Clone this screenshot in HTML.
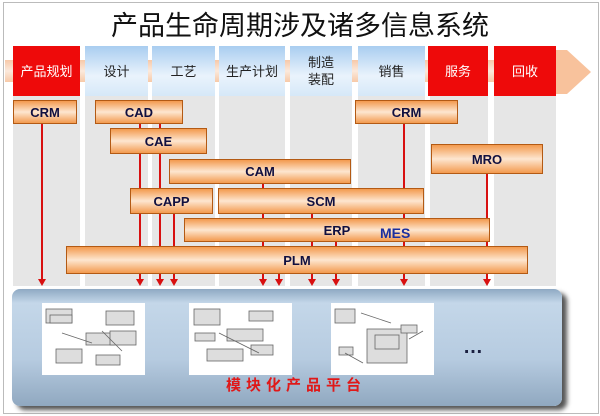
<!DOCTYPE html>
<html><head><meta charset="utf-8"><style>
body{margin:0;width:600px;height:416px;background:#fff;position:relative;overflow:hidden;font-family:"Liberation Sans","Noto Sans CJK SC",sans-serif}
.a{position:absolute}
.title{left:0;width:600px;top:4px;text-align:center;font-size:27px;color:#111}
.h{position:absolute;top:46px;height:50px;display:flex;align-items:center;justify-content:center;font-size:13px;text-align:center;line-height:17px}
.r{background:#ee0a0a;color:#fff}
.b{background:linear-gradient(#a9cdf0,#eaf3fc 60%,#d6e8f8);color:#222}
.col{position:absolute;top:96px;height:190px;background:#e6e6e6}
.bx{position:absolute;border:1px solid #b35a14;background:linear-gradient(#f39a4e,#fde6d0 50%,#f39a4e);display:flex;align-items:center;justify-content:center;font-weight:bold;font-size:13px;color:#101040;box-sizing:border-box}
.ln{position:absolute;width:2px;background:#d81010}
.ah{position:absolute;width:0;height:0;border-left:4px solid transparent;border-right:4px solid transparent;border-top:7px solid #d81010}
.img{position:absolute;top:303px;height:72px;background:#fff;overflow:hidden}
</style></head><body>
<div style="position:absolute;left:3px;top:2px;width:594px;height:410px;border:1px solid #bbb"></div>
<div class="a title">产品生命周期涉及诸多信息系统</div>
<div class="a" style="left:5px;top:60px;width:560px;height:22px;background:linear-gradient(#f7c9a8,#fbe9dc,#f7c9a8)"></div>
<svg class="a" style="left:555px;top:50px" width="40" height="44"><polygon points="0,0 12,0 36,22 12,44 0,44" fill="#f8c29c"/></svg>
<div class="col" style="left:13px;width:67px"></div>
<div class="col" style="left:85px;width:63px"></div>
<div class="col" style="left:152px;width:63px"></div>
<div class="col" style="left:219px;width:66px"></div>
<div class="col" style="left:290px;width:62px"></div>
<div class="col" style="left:358px;width:67px"></div>
<div class="col" style="left:430px;width:58px"></div>
<div class="col" style="left:494px;width:62px"></div>
<div class="h r" style="left:13px;width:67px">产品规划</div>
<div class="h b" style="left:85px;width:63px">设计</div>
<div class="h b" style="left:152px;width:63px">工艺</div>
<div class="h b" style="left:219px;width:66px">生产计划</div>
<div class="h b" style="left:290px;width:62px">制造<br>装配</div>
<div class="h b" style="left:358px;width:67px">销售</div>
<div class="h r" style="left:428px;width:60px">服务</div>
<div class="h r" style="left:494px;width:62px">回收</div>
<div class="ln" style="left:41px;top:123px;height:157px"></div>
<div class="ln" style="left:139px;top:123px;height:157px"></div>
<div class="ln" style="left:159px;top:123px;height:157px"></div>
<div class="ln" style="left:173px;top:213px;height:67px"></div>
<div class="ln" style="left:262px;top:183px;height:97px"></div>
<div class="ln" style="left:278px;top:273px;height:7px"></div>
<div class="ln" style="left:311px;top:213px;height:67px"></div>
<div class="ln" style="left:335px;top:241px;height:39px"></div>
<div class="ln" style="left:403px;top:123px;height:157px"></div>
<div class="ln" style="left:486px;top:174px;height:106px"></div>
<div class="ah" style="left:38px;top:279px"></div>
<div class="ah" style="left:136px;top:279px"></div>
<div class="ah" style="left:156px;top:279px"></div>
<div class="ah" style="left:170px;top:279px"></div>
<div class="ah" style="left:259px;top:279px"></div>
<div class="ah" style="left:275px;top:279px"></div>
<div class="ah" style="left:308px;top:279px"></div>
<div class="ah" style="left:332px;top:279px"></div>
<div class="ah" style="left:400px;top:279px"></div>
<div class="ah" style="left:483px;top:279px"></div>
<div class="bx" style="left:13px;top:100px;width:64px;height:24px">CRM</div>
<div class="bx" style="left:95px;top:100px;width:88px;height:24px">CAD</div>
<div class="bx" style="left:355px;top:100px;width:103px;height:24px">CRM</div>
<div class="bx" style="left:110px;top:128px;width:97px;height:26px">CAE</div>
<div class="bx" style="left:169px;top:159px;width:182px;height:25px">CAM</div>
<div class="bx" style="left:431px;top:144px;width:112px;height:30px">MRO</div>
<div class="bx" style="left:130px;top:188px;width:83px;height:26px">CAPP</div>
<div class="bx" style="left:218px;top:188px;width:206px;height:26px">SCM</div>
<div class="bx" style="left:184px;top:218px;width:306px;height:24px">ERP</div>
<div class="a" style="left:380px;top:225px;font-weight:bold;font-size:14px;color:#1a2fa0">MES</div>
<div class="bx" style="left:66px;top:246px;width:462px;height:28px">PLM</div>
<div class="a" style="left:12px;top:289px;width:550px;height:117px;border-radius:8px;background:linear-gradient(#8ea9c3,#c4d7e9 12%,#b6cbe0 60%,#90a8c0);box-shadow:5px 4px 5px #555"></div>
<div class="img" style="left:42px;width:103px"></div>
<div class="img" style="left:189px;width:103px"></div>
<div class="img" style="left:331px;width:103px"></div>
<svg class="a" style="left:42px;top:303px" width="400" height="72" stroke="#666" fill="#ddd" stroke-width="0.8">
<g><rect x="4" y="6" width="26" height="14"/><rect x="8" y="12" width="22" height="8"/><rect x="44" y="30" width="28" height="12"/><rect x="14" y="46" width="26" height="14"/><rect x="54" y="52" width="24" height="10"/><rect x="64" y="8" width="28" height="14"/><rect x="68" y="28" width="26" height="14"/><path d="M20 30l30 10M60 28l20 20" fill="none"/></g>
<g transform="translate(147,0)"><rect x="5" y="6" width="26" height="16"/><rect x="38" y="26" width="36" height="12"/><rect x="18" y="46" width="36" height="12"/><rect x="60" y="8" width="24" height="10"/><rect x="6" y="30" width="20" height="8"/><rect x="62" y="42" width="22" height="10"/><path d="M30 30l40 20" fill="none"/></g>
<g transform="translate(289,0)"><rect x="4" y="6" width="20" height="14"/><rect x="36" y="26" width="40" height="34"/><rect x="44" y="32" width="24" height="14"/><rect x="70" y="22" width="16" height="8"/><rect x="8" y="44" width="14" height="8"/><path d="M30 10l30 10M78 36l14 -8M14 50l18 10" fill="none"/></g>
</svg>
<div class="a" style="left:463px;top:336px;font-size:20px;font-weight:bold;color:#1a2040">…</div>
<div class="a" style="left:226px;top:374px;font-size:15px;font-weight:bold;color:#e01818;letter-spacing:5px">模块化产品平台</div>
</body></html>
